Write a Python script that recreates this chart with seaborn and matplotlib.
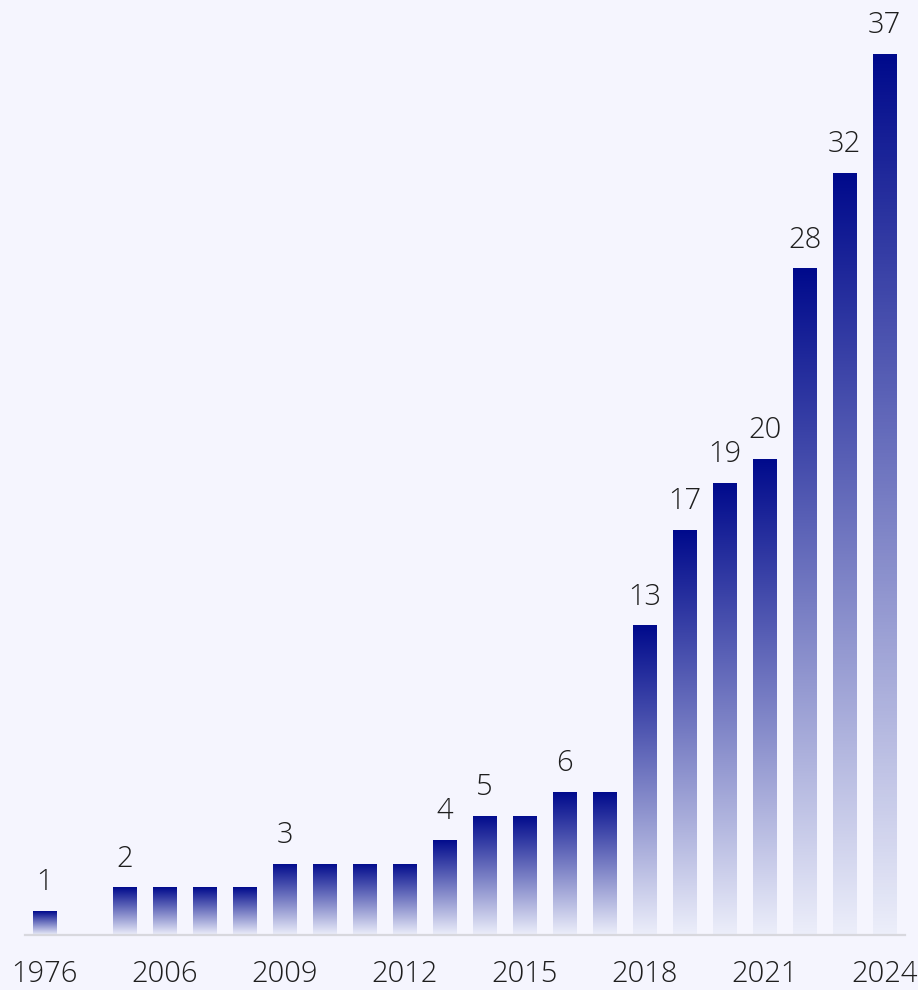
import numpy as np
import pandas as pd
import matplotlib
matplotlib.use("Agg")
import matplotlib.pyplot as plt
from matplotlib.colors import LinearSegmentedColormap
import seaborn as sns

# data (slot 2004 has no bar)
years = ["1976", "2004", "2005", "2006", "2007", "2008", "2009", "2010", "2011",
         "2012", "2013", "2014", "2015", "2016", "2017", "2018", "2019", "2020",
         "2021", "2022", "2023", "2024"]
counts = [1, np.nan, 2, 2, 2, 2, 3, 3, 3, 3, 4, 5, 5, 6, 6, 13, 17, 19, 20, 28, 32, 37]
shown_ticks = ["1976", "2006", "2009", "2012", "2015", "2018", "2021", "2024"]

bg = "#F5F5FE"
df = pd.DataFrame({"year": years, "count": counts})

sns.set_theme(style="white")
plt.rcParams["font.family"] = ["Open Sans", "DejaVu Sans"]

fig = plt.figure(figsize=(9.18, 9.9), dpi=100, facecolor=bg)
ax = fig.add_axes([24.5 / 918, 55 / 990, 880 / 918, 935 / 990])
ax.set_facecolor(bg)

sns.barplot(data=df, x="year", y="count", order=years, width=0.6,
            color="#000A8C", ax=ax)

# vertical gradient per bar: dark navy on top, almost background at the base
cmap = LinearSegmentedColormap.from_list("grad", ["#ECEEFA", "#000A8C"])
grad = np.linspace(0, 1, 256).reshape(-1, 1)
for p in ax.patches:
    h = p.get_height()
    if not np.isfinite(h) or h <= 0:
        continue
    x0, w = p.get_x(), p.get_width()
    p.set_facecolor("none")
    p.set_edgecolor("none")
    im = ax.imshow(grad, cmap=cmap, origin="lower", aspect="auto",
                   extent=[x0, x0 + w, 0, h], zorder=2)
    im.set_clip_path(p)

# value labels only where the count changes
prev = None
for i, v in enumerate(counts):
    if np.isnan(v):
        continue
    if v != prev:
        ax.annotate(f"{int(v)}", (i, v), xytext=(0, 15), textcoords="offset points",
                    ha="center", va="baseline", fontsize=21, color="#1E1E1E",
                    fontweight="light")
    prev = v

ax.set_xlim(-0.5, len(years) - 0.5)
ax.set_ylim(0, 39.27)
ax.set_xticks(range(len(years)))
ax.set_xticklabels([y if y in shown_ticks else "" for y in years],
                   fontsize=21, color="#1E1E1E", fontweight="light")
ax.tick_params(axis="x", length=0, pad=18)
ax.set_yticks([])
ax.set_xlabel("")
ax.set_ylabel("")
for s in ["top", "right", "left"]:
    ax.spines[s].set_visible(False)
ax.spines["bottom"].set_color("#D8D8DE")
ax.spines["bottom"].set_linewidth(1.6)

fig.savefig("out.png", dpi=100, facecolor=bg)
